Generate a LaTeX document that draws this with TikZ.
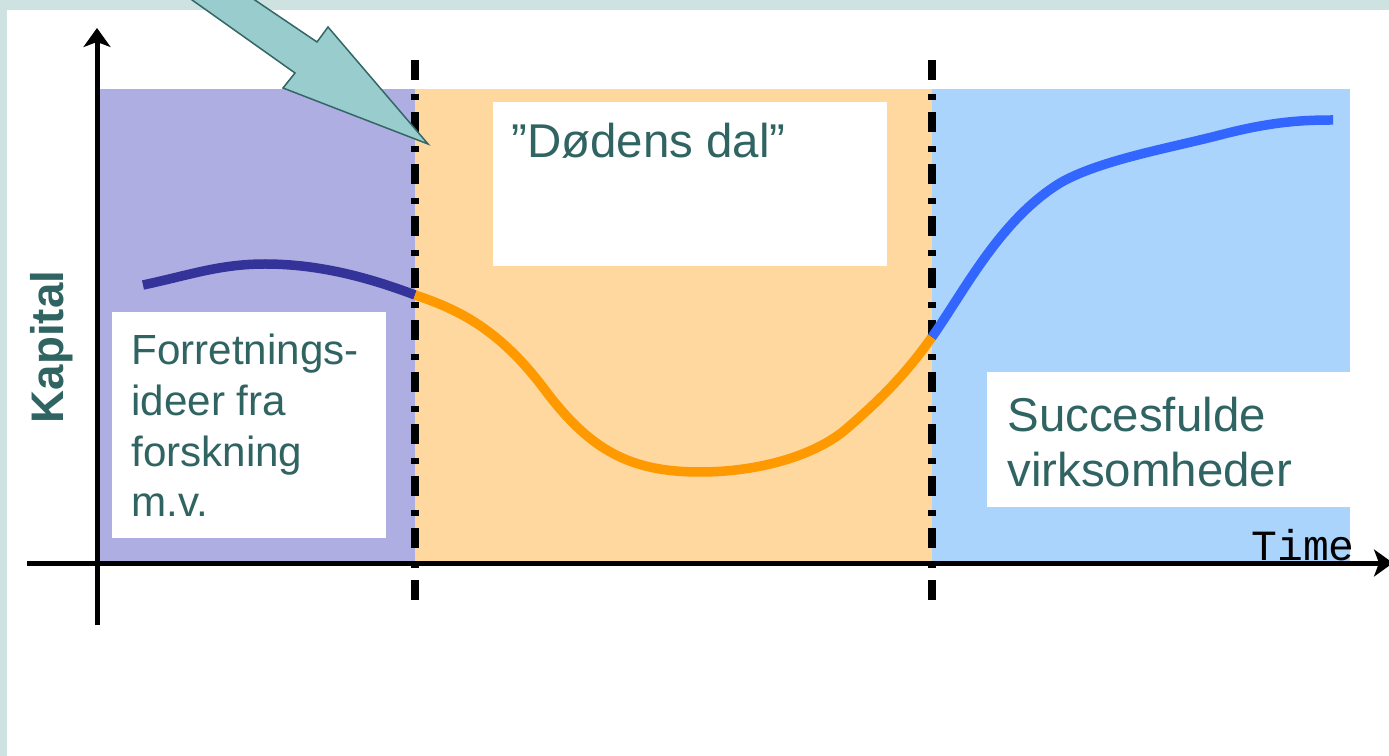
\documentclass[tikz,border=0pt]{standalone}
\usepackage{fontspec}
\setmainfont{Liberation Sans}
\setmonofont{Liberation Mono}
\usepackage{tikz}
\usetikzlibrary{arrows.meta}
\definecolor{bgteal}  {RGB}{207,226,226}
\definecolor{lpurple} {RGB}{175,174,226}
\definecolor{lorange} {RGB}{254,216,159}
\definecolor{lblue}   {RGB}{171,212,252}
\definecolor{jblue}   {RGB}{51,51,153}
\definecolor{korange} {RGB}{255,153,0}
\definecolor{sblue}   {RGB}{51,102,255}
\definecolor{tteal}   {RGB}{48,100,98}
\definecolor{afill}   {RGB}{153,204,204}
\definecolor{aline}   {RGB}{51,102,102}
\tikzset{
    kaxis/.style={draw=black, line width=0.1cm,
             -{Stealth[length=0.38cm,width=0.54cm,inset=0.1cm]}},
    phaseline/.style={draw=black, line width=0.16cm,
             dash pattern=on 0.4cm off 0.28cm on 0.12cm off 0.24cm},
    capline/.style={line width=0.19cm},
    textbox/.style={fill=white},
    boxtext/.style={text=tteal, inner sep=0pt, align=left, anchor=base west}
  }

\begin{document}
\begin{tikzpicture}[x=0.02cm, y=-0.02cm]
 \useasboundingbox (0,0) rectangle (1389,756);
 \clip (0,0) rectangle (1389,756);
 % background
     \fill[bgteal] (0,0) rectangle (1389,756);
     \fill[white] (7,10) rectangle (1389,756);
 % phases
     \fill[lpurple] (100,89) rectangle (415,562);
     \fill[lorange] (415,89) rectangle (932,562);
     \fill[lblue] (932,89) rectangle (1350,562);
 % axes
     \coordinate (ybot) at (97,625);
     \coordinate (ytop) at (97,28);
     \coordinate (xleft) at (27,563);
     \coordinate (xright) at (1393,563);
     \draw[kaxis] (ybot) -- (ytop);
     \draw[kaxis] (xleft) -- (xright);
 % phase borders
     \coordinate (b1top) at (415,60);
     \coordinate (b1bot) at (415,606);
     \coordinate (b2top) at (932,60);
     \coordinate (b2bot) at (932,606);
     \draw[phaseline] (b1top) -- (b1bot);
     \draw[phaseline] (b2top) -- (b2bot);
 % capital curve
     \coordinate (c0) at (143,285);
     \coordinate (c1) at (415,295);
     \coordinate (c2) at (932,337);
     \coordinate (c3) at (1333,120);
     \draw[capline, jblue] (c0) .. controls (190,275) and (220,264) .. (265,264)
         .. controls (320,264) and (370,278) .. (c1);
     \draw[capline, korange] (c1) .. controls (460,310) and (500,330) .. (545,390)
         .. controls (590,450) and (630,472) .. (700,472)
         .. controls (760,472) and (815,455) .. (845,430)
         .. controls (880,400) and (905,375) .. (c2);
     \draw[capline, sblue] (c2) .. controls (965,290) and (1000,220) .. (1060,183)
         .. controls (1100,160) and (1170,148) .. (1220,135)
         .. controls (1270,122) and (1300,120) .. (c3);
 % text boxes
     \fill[textbox] (493,102) rectangle (887,266);
     \fill[textbox] (112,312) rectangle (386,538);
     \fill[textbox] (987,372) rectangle (1350,507);
     \node[boxtext, font=\fontsize{27}{32}\selectfont] (dal) at (511,158) {”Dødens dal”};
     \node[boxtext, font=\fontsize{24}{28.9}\selectfont] (ideas) at (131,517)
         {Forretnings-\\ideer fra\\forskning\\m.v.};
     \node[boxtext, font=\fontsize{27}{31.2}\selectfont] (firms) at (1007,486)
         {Succesfulde\\virksomheder};
 % axis labels
     \node[text=tteal, font=\fontsize{26}{30}\selectfont\bfseries, rotate=90] (kap) at (52,347) {Kapital};
     \node[inner sep=0pt, anchor=base west, font=\ttfamily\fontsize{24.5}{28}\selectfont] (time) at (1251,561) {Time};
 % pointer
     \filldraw[fill=afill, draw=aline, line width=0.03cm]
         (178,-10) -- (295,73) -- (283,88) -- (428,144) -- (328,27) -- (317,42) -- (240,-10) -- cycle;
\end{tikzpicture}
\end{document}
